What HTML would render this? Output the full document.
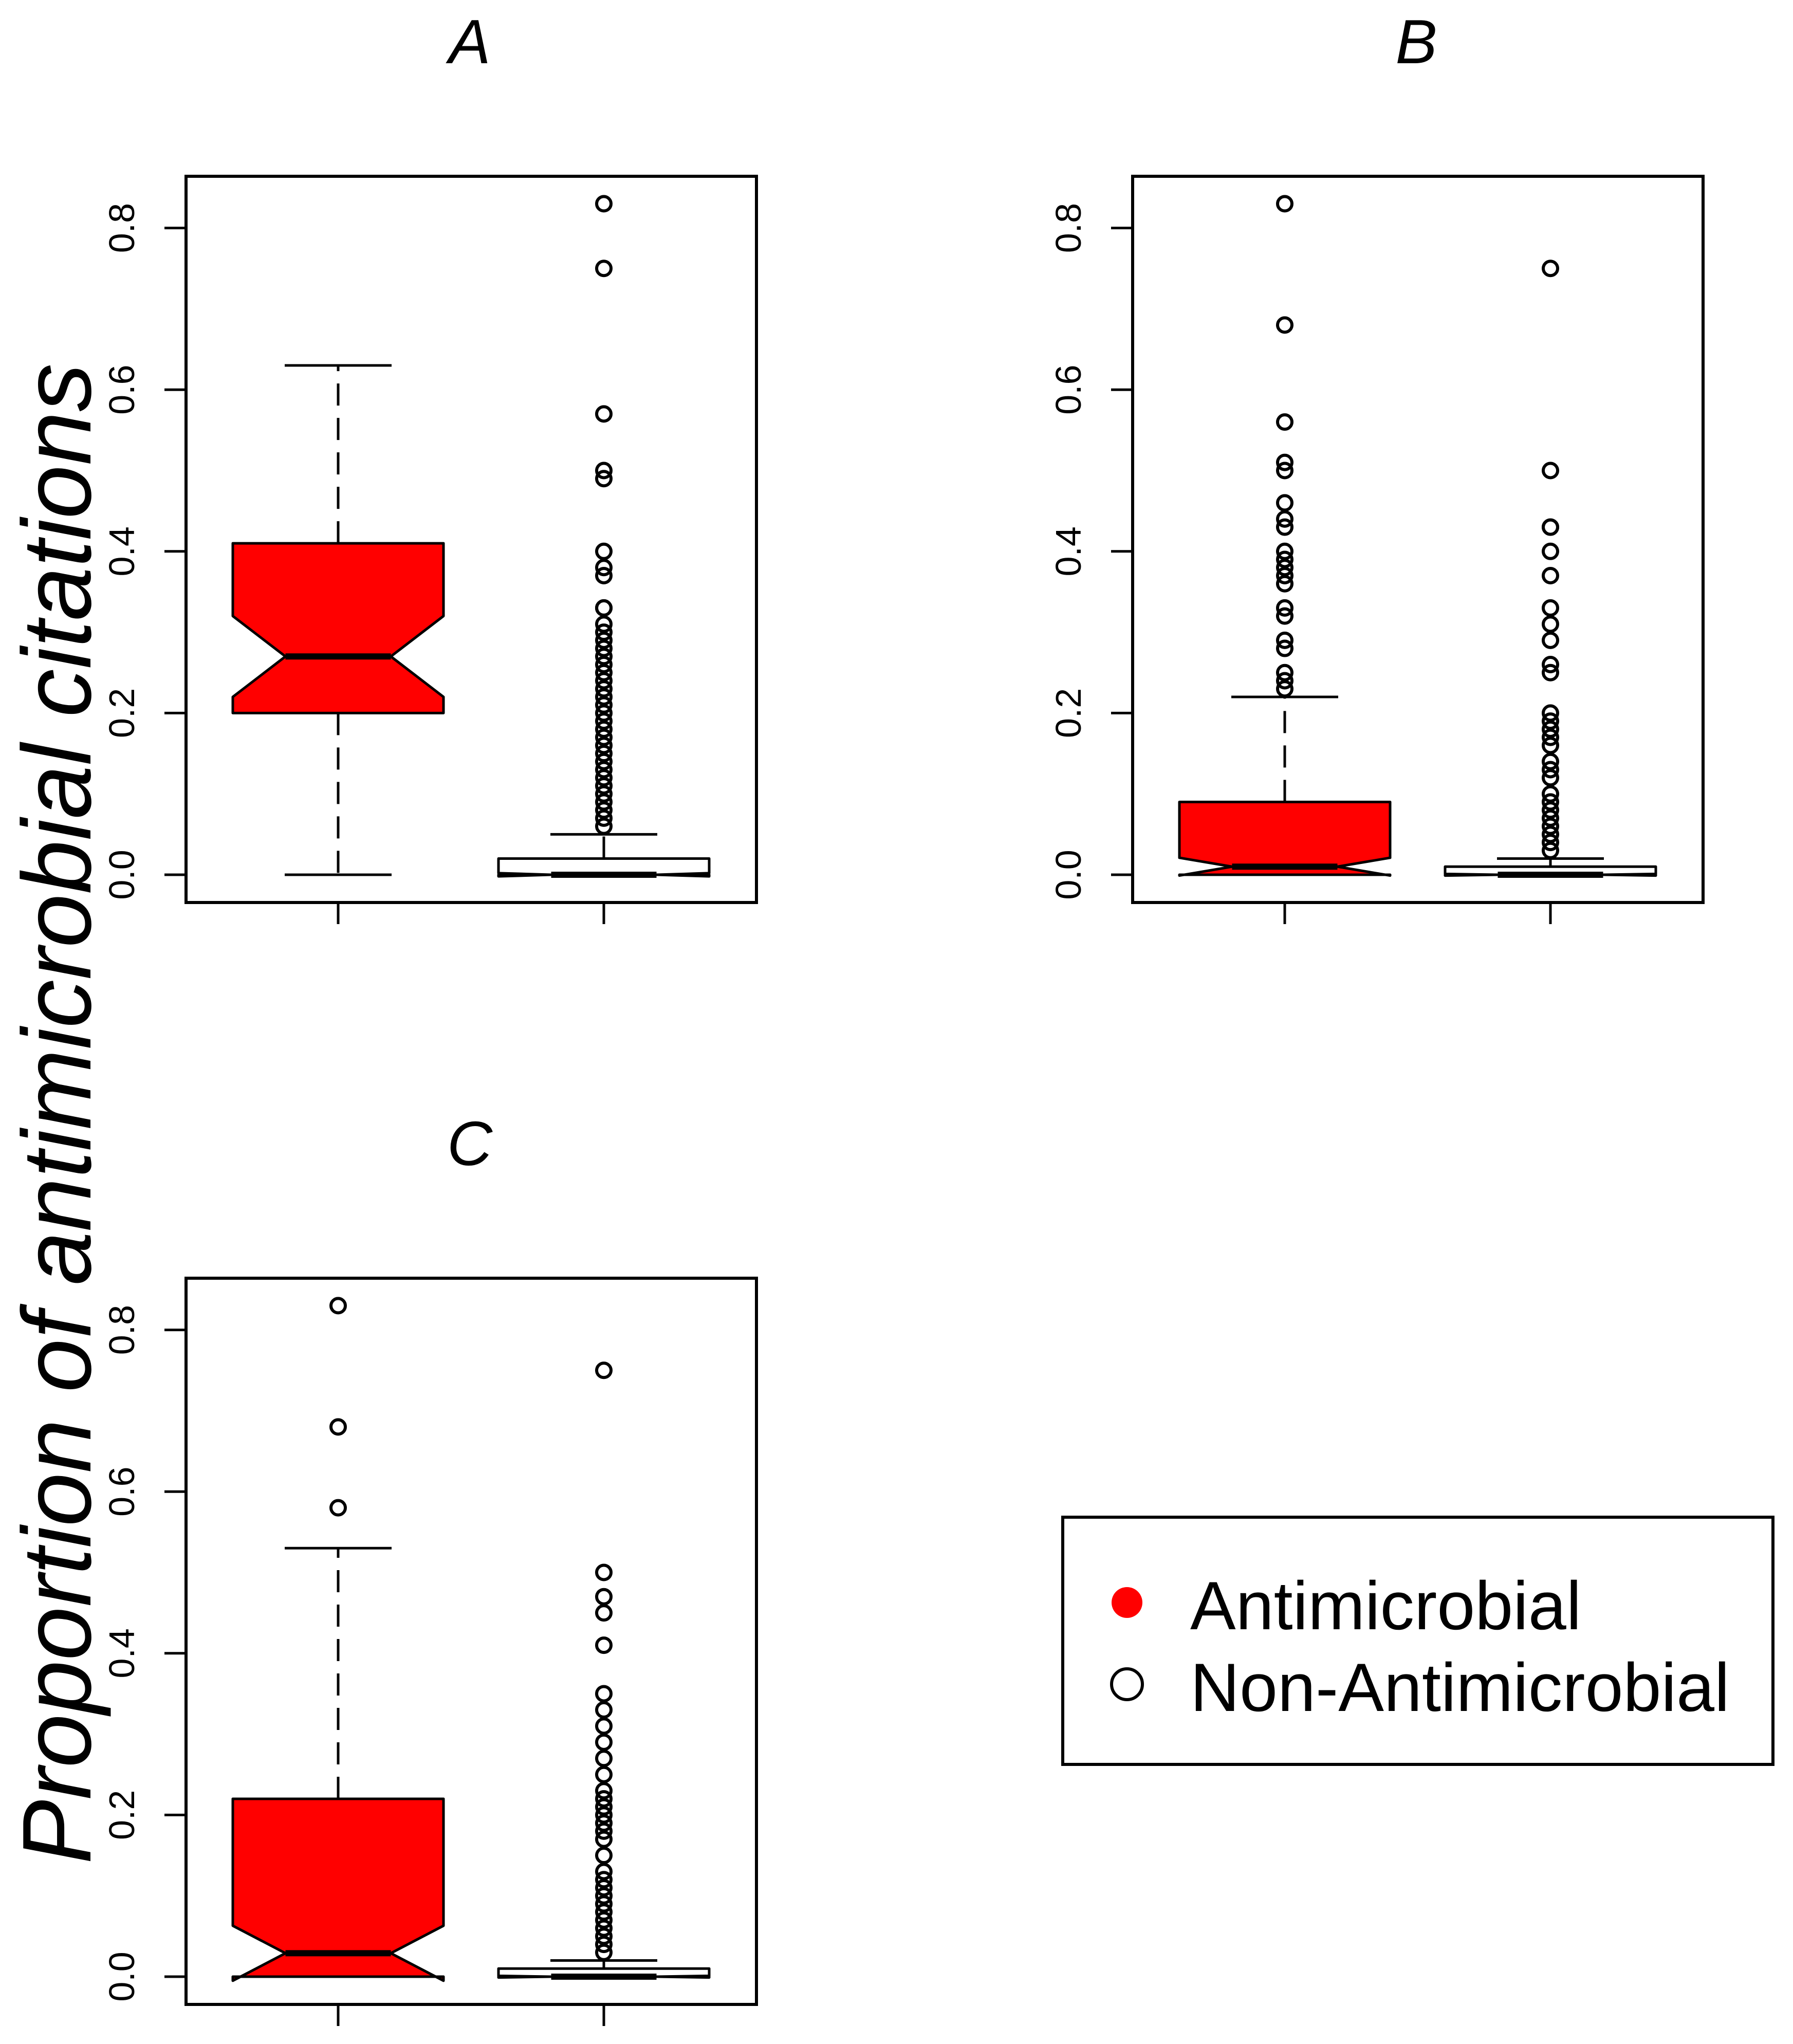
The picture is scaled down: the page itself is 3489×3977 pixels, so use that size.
<!DOCTYPE html>
<html><head><meta charset="utf-8"><style>
html,body{margin:0;padding:0;background:#fff;}
svg{display:block;font-family:"Liberation Sans",Arial,sans-serif;}
</style></head><body>
<svg id="chart" width="3489" height="3977" viewBox="0 0 3489 3977" xmlns="http://www.w3.org/2000/svg">
<rect width="3489" height="3977" fill="#fff"/>
<text x="0" y="0" transform="translate(176,2167) rotate(-90)" text-anchor="middle" font-size="190" font-style="italic" textLength="2920" lengthAdjust="spacingAndGlyphs">Proportion of antimicrobial citations</text>
<g id="panels"></g>
<g>
<rect x="2068" y="2952" width="1382" height="481" fill="#fff" stroke="#000" stroke-width="6"/>
<g>
<ellipse cx="2193" cy="3118" rx="30" ry="30" fill="#ff0000"/>
<text x="2316" y="3170" font-size="133">Antimicrobial</text>
</g>
<g>
<circle cx="2193" cy="3277" r="30" fill="none" stroke="#000" stroke-width="6"/>
<text x="2316" y="3329" font-size="133">Non-Antimicrobial</text>
</g>
</g>
</svg>
<script>
const panelNames = ["A","B","C"];
const yTicks = [0, 0.2, 0.4, 0.6, 0.8];
const yTickLabels = ["0.0","0.2","0.4","0.6","0.8"];
const groups = ["Antimicrobial","Non-Antimicrobial"];
// stats per panel: [q1, notchLo, median, notchHi, q3, whiskerLo, whiskerHi]
const statsA_anti = [0.20, 0.22, 0.27, 0.32, 0.41, 0.0, 0.63];
const statsA_non  = [0.0, -0.002, 0.0, 0.002, 0.02, 0.0, 0.05];
const statsB_anti = [0.0, -0.001, 0.01, 0.021, 0.09, 0.0, 0.22];
const statsB_non  = [0.0, -0.001, 0.0, 0.001, 0.01, 0.0, 0.02];
const statsC_anti = [0.0, -0.005, 0.029, 0.063, 0.22, 0.0, 0.53];
const statsC_non  = [0.0, -0.001, 0.0, 0.001, 0.01, 0.0, 0.02];
const outA_anti = [];
const outA_non = [0.83,0.75,0.57,0.50,0.49,0.40,0.38,0.37,0.33,0.33,0.31,0.30,0.29,0.28,0.27,0.26,0.25,0.24,0.23,0.22,0.21,0.20,0.19,0.18,0.17,0.16,0.15,0.14,0.13,0.12,0.11,0.10,0.09,0.08,0.07,0.06];
const outB_anti = [0.83,0.68,0.56,0.51,0.50,0.46,0.44,0.43,0.40,0.39,0.38,0.37,0.36,0.33,0.32,0.29,0.28,0.25,0.24,0.23];
const outB_non = [0.75,0.50,0.43,0.43,0.40,0.37,0.33,0.31,0.29,0.26,0.25,0.20,0.19,0.18,0.17,0.16,0.14,0.13,0.12,0.10,0.09,0.08,0.07,0.06,0.05,0.04,0.03];
const outC_anti = [0.83,0.68,0.58];
const outC_non = [0.75,0.50,0.47,0.45,0.41,0.35,0.33,0.31,0.29,0.27,0.25,0.23,0.22,0.21,0.20,0.19,0.18,0.17,0.15,0.13,0.12,0.11,0.10,0.09,0.08,0.07,0.06,0.05,0.04,0.03];

const NS = "http://www.w3.org/2000/svg";
const root = document.getElementById("panels");
function mk(tag, attrs, parent){const e=document.createElementNS(NS,tag);for(const k in attrs)e.setAttribute(k,attrs[k]);parent.appendChild(e);return e;}

const layout = [{x:362,y:343,tx:914,ty:123},{x:2204,y:343,tx:2756,ty:123},{x:362,y:2487,tx:914,ty:2267}];
const panelStats = [[statsA_anti,statsA_non],[statsB_anti,statsB_non],[statsC_anti,statsC_non]];
const panelOut = [[outA_anti,outA_non],[outB_anti,outB_non],[outC_anti,outC_non]];
const W=1110, H=1413, Y0=1359, SC=1573;
const gx=[296,813], HW=205, CAP=104;

panelNames.forEach((pn,pi)=>{
  const L=layout[pi];
  const g=mk("g",{},root);
  
  
  const yS=v=>L.y+Y0-v*SC;
  const xS=i=>L.x+gx[i];
  const t=mk("text",{x:L.tx,y:L.ty,"text-anchor":"middle","font-size":122,"font-style":"italic"},g);
  t.textContent=pn;
  
  
  yTicks.forEach((v,k)=>{
    const tl=mk("line",{x1:L.x-42,x2:L.x,y1:yS(v),y2:yS(v),stroke:"#000","stroke-width":5},g);
    
    
    const tx=mk("text",{x:0,y:0,transform:`translate(${L.x-101},${yS(v)}) rotate(-90)`,"text-anchor":"middle","font-size":70},g);
    tx.textContent=yTickLabels[k];
    
    
  });
  groups.forEach((gn,i)=>{
    const xl=mk("line",{x1:xS(i),x2:xS(i),y1:L.y+H,y2:L.y+H+42,stroke:"#000","stroke-width":5},g);
    
    
    const s=panelStats[pi][i];
    const [q1,nlo,med,nhi,q3,wlo,whi]=s;
    const cx=xS(i);
    const bg=mk("g",{},g);
    
    
    const wl=mk("line",{x1:cx,x2:cx,y1:yS(q3),y2:yS(whi),stroke:"#000","stroke-width":5,"stroke-dasharray":"43 24"},bg);
    
    
    const wl2=mk("line",{x1:cx,x2:cx,y1:yS(q1),y2:yS(wlo),stroke:"#000","stroke-width":5,"stroke-dasharray":"43 24"},bg);
    
    
    [whi,wlo].forEach(v=>{
      const c=mk("line",{x1:cx-CAP,x2:cx+CAP,y1:yS(v),y2:yS(v),stroke:"#000","stroke-width":5},bg);
      
      
    });
    const pts=[[cx-HW,q1],[cx-HW,nlo],[cx-HW/2,med],[cx-HW,nhi],[cx-HW,q3],[cx+HW,q3],[cx+HW,nhi],[cx+HW/2,med],[cx+HW,nlo],[cx+HW,q1]];
    const poly=mk("polygon",{points:pts.map(p=>p[0]+","+yS(p[1])).join(" "),fill:i===0?"#ff0000":"#fff",stroke:"#000","stroke-width":5,"stroke-linejoin":"round"},bg);
    
    
    const ml=mk("line",{x1:cx-HW/2,x2:cx+HW/2,y1:yS(med),y2:yS(med),stroke:"#000","stroke-width":12},bg);
    
    
    panelOut[pi][i].forEach(v=>{
      const o=mk("circle",{cx:cx,cy:yS(v),r:14,fill:"none",stroke:"#000","stroke-width":6},bg);
      
      
    });
  });
  const fr=mk("rect",{x:L.x,y:L.y,width:W,height:H,fill:"none",stroke:"#000","stroke-width":6},g);
  
  
});
</script>
</body></html>
